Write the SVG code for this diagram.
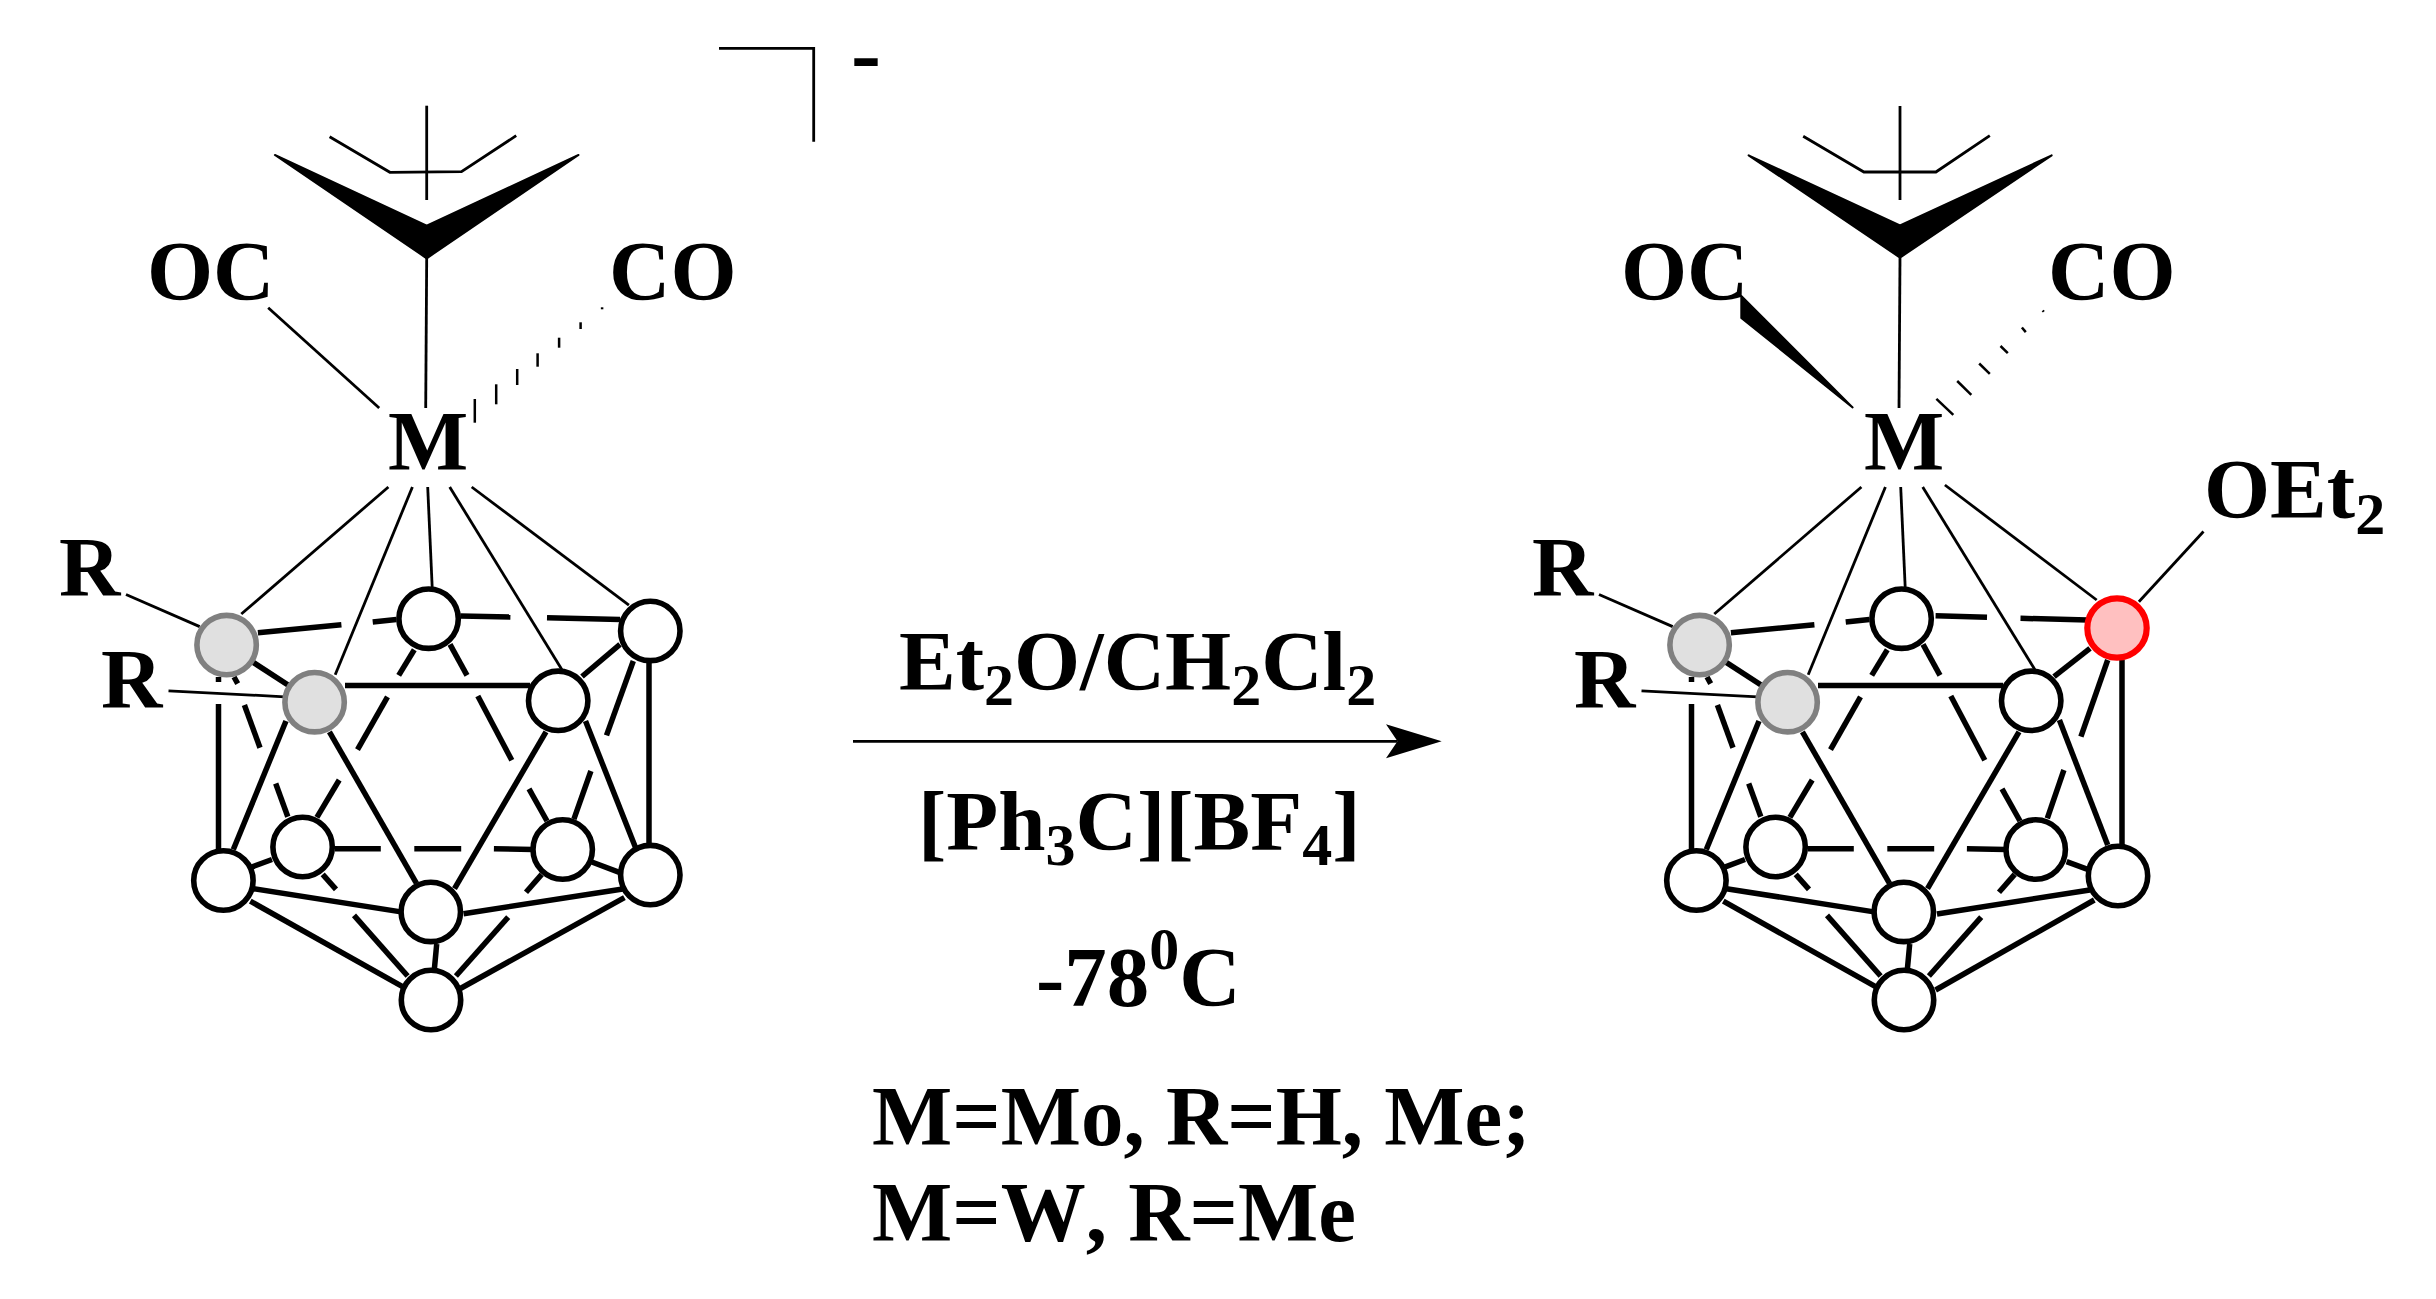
<svg xmlns="http://www.w3.org/2000/svg" width="2436" height="1299" viewBox="0 0 2436 1299">
<defs>
<style>
text{font-family:"Liberation Serif","Times New Roman",serif;font-weight:bold;font-size:85px;fill:#000;font-kerning:none}
.sub{font-size:60px}
.charge{font-size:90px}
line,polyline{stroke:#000;fill:none;stroke-linecap:butt}
.k{stroke-width:5.5}
.t{stroke-width:2.8}
.h{stroke-width:2.5}
.w{fill:#000;stroke:#000;stroke-width:2;stroke-linejoin:round}
circle{stroke-width:5.6;fill:#fff;stroke:#000}
.g{fill:#e0e0e0;stroke:#808080}
.p{fill:#ffc0c0;stroke:#ff0000;stroke-width:6.2}
</style>
<marker id="ah" markerUnits="userSpaceOnUse" markerWidth="60" markerHeight="40" refX="11.5" refY="17" orient="auto" viewBox="0 0 60 40">
<path d="M0,0L55.7,17L0,34L11.5,17Z" fill="#000"/>
</marker>
</defs>
<rect width="2436" height="1299" fill="#fff"/>
<g id="connectors">
<g id="bonds-left-thin">
<polyline class="t" points="719,48.3 813.7,48.3 813.7,141.7"/>
<polyline class="t" points="329.6,136.7 389.9,172.3 461.5,171.7 516.2,135.7"/>
<line class="t" x1="426.7" y1="105.7" x2="426.7" y2="200"/>
<polygon class="w" points="274.9,155 426.7,225.7 578.5,155 426.7,258.3"/>
<line class="t" x1="426.7" y1="258" x2="425.7" y2="408"/>
<line class="t" x1="268.2" y1="307.7" x2="379.2" y2="408"/>
<line class="h" x1="474.8" y1="399" x2="474.8" y2="422.7"/>
<line class="h" x1="496.2" y1="384.3" x2="496.2" y2="404.3"/>
<line class="h" x1="517.2" y1="369" x2="517.2" y2="385"/>
<line class="h" x1="537.6" y1="353.3" x2="537.6" y2="366.7"/>
<line class="h" x1="559.1" y1="337.7" x2="559.1" y2="347.7"/>
<line class="h" x1="580.6" y1="322.3" x2="580.6" y2="329"/>
<line class="h" x1="602.1" y1="307.3" x2="602.1" y2="309.3"/>
<line class="t" x1="388.4" y1="487" x2="241.3" y2="614"/>
<line class="t" x1="412.4" y1="487" x2="335.2" y2="674.7"/>
<line class="t" x1="427.7" y1="487" x2="432.2" y2="587.4"/>
<line class="t" x1="449.7" y1="487" x2="561.8" y2="669.4"/>
<line class="t" x1="471.7" y1="487" x2="628.9" y2="605.2"/>
<line class="t" x1="126" y1="594.5" x2="199.7" y2="626.6"/>
<line class="t" x1="168.5" y1="690.8" x2="284.7" y2="696.8"/>
</g>
<g id="bonds-left-cage">
<line class="k" x1="226.6" y1="645.1" x2="314.6" y2="702.2"/>
<line class="k" x1="345" y1="685.4" x2="530" y2="685.4"/>
<line class="k" x1="286" y1="721" x2="233.3" y2="849.5"/>
<line class="k" x1="329.4" y1="731.8" x2="416.5" y2="883.3"/>
<line class="k" x1="546" y1="731.8" x2="454.5" y2="888.7"/>
<line class="k" x1="585.5" y1="721" x2="635.6" y2="847.7"/>
<line class="k" x1="582" y1="676.5" x2="620" y2="644.4"/>
<line class="k" x1="253.4" y1="888.7" x2="401" y2="911.9"/>
<line class="k" x1="463.5" y1="913.7" x2="624.4" y2="888.7"/>
<line class="k" x1="250.3" y1="901.2" x2="403" y2="986.8"/>
<line class="k" x1="624.4" y1="897.6" x2="460.4" y2="988.5"/>
<line class="k" x1="436.7" y1="944" x2="434.4" y2="969"/>
<line class="k" x1="218.5" y1="704" x2="218.5" y2="850"/>
<line class="k" x1="218.5" y1="677" x2="218.5" y2="682"/>
<line class="k" x1="649" y1="662" x2="649" y2="845"/>
<line class="k" x1="257.9" y1="632.7" x2="341.4" y2="624.8"/>
<line class="k" x1="372.7" y1="622" x2="396.4" y2="619.5"/>
<line class="k" x1="460.3" y1="615.9" x2="510.4" y2="617"/>
<line class="k" x1="547" y1="617.7" x2="620" y2="619.5"/>
<line class="k" x1="414.3" y1="649.8" x2="398.7" y2="675.4"/>
<line class="k" x1="387.5" y1="696.8" x2="357.5" y2="749.6"/>
<line class="k" x1="339.2" y1="780" x2="316.9" y2="817.4"/>
<line class="k" x1="450" y1="644.4" x2="467" y2="675.4"/>
<line class="k" x1="477.8" y1="696" x2="511.8" y2="760.3"/>
<line class="k" x1="529" y1="788.8" x2="547" y2="821"/>
<line class="k" x1="234" y1="677" x2="237.7" y2="683.6"/>
<line class="k" x1="244.4" y1="705" x2="260" y2="747.8"/>
<line class="k" x1="275.7" y1="783.5" x2="287.8" y2="816.7"/>
<line class="k" x1="633.3" y1="661" x2="606.5" y2="735.4"/>
<line class="k" x1="590.9" y1="771" x2="573.9" y2="819.2"/>
<line class="k" x1="334.7" y1="848.8" x2="380.8" y2="848.8"/>
<line class="k" x1="414.3" y1="848.8" x2="461.2" y2="848.8"/>
<line class="k" x1="493.9" y1="848.8" x2="533" y2="849.5"/>
<line class="k" x1="251" y1="867.3" x2="272" y2="859.5"/>
<line class="k" x1="591.8" y1="862" x2="620" y2="872.6"/>
<line class="k" x1="322.7" y1="874.4" x2="336" y2="889.4"/>
<line class="k" x1="354" y1="915.4" x2="407.6" y2="976"/>
<line class="k" x1="541.7" y1="874.4" x2="526" y2="892.3"/>
<line class="k" x1="508.2" y1="917.2" x2="455.9" y2="976"/>
</g>
<g id="bonds-right-thin">
<polyline class="t" points="1803.2,136.3 1863.9,172 1935.9,172 1989.8,135.6"/>
<line class="t" x1="1900" y1="106" x2="1900" y2="200"/>
<polygon class="w" points="1748.6,155.3 1900,225.5 2051.7,155.3 1900,257.6"/>
<line class="t" x1="1900" y1="258" x2="1899" y2="408"/>
<polygon class="w" points="1852.6,407.4 1741.3,296 1741.3,318"/>
<line class="h" x1="1936.4" y1="398.8" x2="1953.3" y2="414.9"/>
<line class="h" x1="1957.2" y1="381" x2="1971.3" y2="394.9"/>
<line class="h" x1="1979.2" y1="363.5" x2="1989.8" y2="373.9"/>
<line class="h" x1="2000.5" y1="346" x2="2007.8" y2="353.2"/>
<line class="h" x1="2021.9" y1="327.5" x2="2025.8" y2="332.1"/>
<line class="h" x1="2042.7" y1="310.4" x2="2043.8" y2="311.8"/>
<line class="t" x1="1861.4" y1="487" x2="1714.3" y2="614"/>
<line class="t" x1="1885.4" y1="487" x2="1808.2" y2="674.7"/>
<line class="t" x1="1900.7" y1="487" x2="1905.2" y2="587.4"/>
<line class="t" x1="1922.7" y1="487" x2="2034.8" y2="669.4"/>
<line class="t" x1="1944.9" y1="485" x2="2096.7" y2="600"/>
<line class="t" x1="2203.5" y1="531.5" x2="2138.9" y2="601.7"/>
<line class="t" x1="1599" y1="594.5" x2="1672.7" y2="626.6"/>
<line class="t" x1="1641.5" y1="690.8" x2="1757.7" y2="696.8"/>
</g>
<g id="bonds-right-cage">
<line class="k" x1="1699.6" y1="645.1" x2="1787.6" y2="702.2"/>
<line class="k" x1="1818" y1="685.4" x2="2003" y2="685.4"/>
<line class="k" x1="1759" y1="721" x2="1706.3" y2="849.5"/>
<line class="k" x1="1802.4" y1="731.8" x2="1889.5" y2="883.3"/>
<line class="k" x1="2019" y1="731.8" x2="1927.5" y2="888.7"/>
<line class="k" x1="2059.4" y1="720" x2="2107.7" y2="845"/>
<line class="k" x1="2054" y1="676.7" x2="2090" y2="648.3"/>
<line class="k" x1="1726.4" y1="888.7" x2="1874" y2="911.9"/>
<line class="k" x1="1937" y1="914" x2="2089.8" y2="890"/>
<line class="k" x1="1723.3" y1="901.2" x2="1876" y2="986.8"/>
<line class="k" x1="2094.3" y1="900" x2="1935.6" y2="990"/>
<line class="k" x1="1909.7" y1="944" x2="1907.4" y2="969"/>
<line class="k" x1="1691.5" y1="704" x2="1691.5" y2="850"/>
<line class="k" x1="1691.5" y1="677" x2="1691.5" y2="682"/>
<line class="k" x1="2122" y1="660" x2="2122" y2="845"/>
<line class="k" x1="1730.9" y1="632.7" x2="1814.4" y2="624.8"/>
<line class="k" x1="1845.7" y1="622" x2="1869.4" y2="619.5"/>
<line class="k" x1="1935.6" y1="615.7" x2="1987" y2="617.3"/>
<line class="k" x1="2020.5" y1="618.3" x2="2087.6" y2="620"/>
<line class="k" x1="1887.3" y1="649.8" x2="1871.7" y2="675.4"/>
<line class="k" x1="1860.5" y1="696.8" x2="1830.5" y2="749.6"/>
<line class="k" x1="1812.2" y1="780" x2="1789.9" y2="817.4"/>
<line class="k" x1="1923" y1="644.4" x2="1940" y2="675.4"/>
<line class="k" x1="1950.8" y1="696" x2="1984.8" y2="760.3"/>
<line class="k" x1="2002" y1="788.8" x2="2020" y2="821"/>
<line class="k" x1="1707" y1="677" x2="1710.7" y2="683.6"/>
<line class="k" x1="1717.4" y1="705" x2="1733" y2="747.8"/>
<line class="k" x1="1748.7" y1="783.5" x2="1760.8" y2="816.7"/>
<line class="k" x1="2107.7" y1="660" x2="2080.9" y2="736.7"/>
<line class="k" x1="2063.9" y1="770" x2="2047.3" y2="818.3"/>
<line class="k" x1="1807.7" y1="848.8" x2="1853.8" y2="848.8"/>
<line class="k" x1="1887.3" y1="848.8" x2="1934.2" y2="848.8"/>
<line class="k" x1="1966.9" y1="848.8" x2="2006" y2="849.5"/>
<line class="k" x1="1724" y1="867.3" x2="1745" y2="859.5"/>
<line class="k" x1="2066.6" y1="861.7" x2="2087.6" y2="869.3"/>
<line class="k" x1="1795.7" y1="874.4" x2="1809" y2="889.4"/>
<line class="k" x1="1827" y1="915.4" x2="1880.6" y2="976"/>
<line class="k" x1="2014.7" y1="874.4" x2="1999" y2="892.3"/>
<line class="k" x1="1981.2" y1="917.2" x2="1928.9" y2="976"/>
</g>
<line id="reaction-arrow" class="t" x1="853" y1="741.3" x2="1397.5" y2="741.3" marker-end="url(#ah)"/>
</g>
<g id="cage-left">
<g id="L-A"><circle class="g" cx="226.6" cy="645.1" r="29.7"/></g>
<g id="L-B"><circle class="g" cx="314.6" cy="702.2" r="29.7"/></g>
<g id="L-C"><circle cx="428.6" cy="618.7" r="29.7"/></g>
<g id="L-D"><circle cx="650.3" cy="630.9" r="29.7"/></g>
<g id="L-E"><circle cx="558.2" cy="700.8" r="29.7"/></g>
<g id="L-F"><circle cx="302.6" cy="847" r="29.7"/></g>
<g id="L-G"><circle cx="562.7" cy="849.5" r="29.7"/></g>
<g id="L-H"><circle cx="223.4" cy="880.5" r="29.7"/></g>
<g id="L-I"><circle cx="650.3" cy="875.1" r="29.7"/></g>
<g id="L-J"><circle cx="430.8" cy="911.9" r="29.7"/></g>
<g id="L-K"><circle cx="431" cy="1000" r="29.7"/></g>
</g>
<g id="cage-right">
<g id="R-A"><circle class="g" cx="1699.6" cy="645.1" r="29.7"/></g>
<g id="R-B"><circle class="g" cx="1787.6" cy="702.2" r="29.7"/></g>
<g id="R-C"><circle cx="1901.6" cy="618.7" r="29.7"/></g>
<g id="R-D"><circle class="p" cx="2117" cy="628" r="29.7"/></g>
<g id="R-E"><circle cx="2031.2" cy="700.8" r="29.7"/></g>
<g id="R-F"><circle cx="1775.6" cy="847" r="29.7"/></g>
<g id="R-G"><circle cx="2035.7" cy="849.5" r="29.7"/></g>
<g id="R-H"><circle cx="1696.4" cy="880.5" r="29.7"/></g>
<g id="R-I"><circle cx="2118" cy="876" r="29.7"/></g>
<g id="R-J"><circle cx="1903.8" cy="911.9" r="29.7"/></g>
<g id="R-K"><circle cx="1904" cy="1000" r="29.7"/></g>
</g>
<g id="labels-left">
<text x="147" y="299.5">OC</text>
<text x="609" y="299.5">CO</text>
<text x="388" y="470">M</text>
<text x="59" y="596">R</text>
<text x="101" y="708">R</text>
<text class="charge" x="851" y="84">-</text>
</g>
<g id="labels-right">
<text x="1621" y="299.5">OC</text>
<text x="2048" y="299.5">CO</text>
<text x="1864" y="470">M</text>
<text x="1532" y="596">R</text>
<text x="1574" y="708">R</text>
<text x="2204" y="518">OEt<tspan class="sub" dy="16">2</tspan></text>
</g>
<g id="reaction-labels">
<text x="899" y="690">Et<tspan class="sub" dy="15">2</tspan><tspan dy="-15">O/CH</tspan><tspan class="sub" dy="15">2</tspan><tspan dy="-15">Cl</tspan><tspan class="sub" dy="15">2</tspan></text>
<text x="918" y="850">[Ph<tspan class="sub" dy="15">3</tspan><tspan dy="-15">C][BF</tspan><tspan class="sub" dy="15">4</tspan><tspan dy="-15">]</tspan></text>
<text x="1036" y="1006">-78<tspan class="sub" dy="-37">0</tspan><tspan dy="37">C</tspan></text>
<text x="872" y="1145">M=Mo, R=H, Me;</text>
<text x="872" y="1241">M=W, R=Me</text>
</g>
</svg>
